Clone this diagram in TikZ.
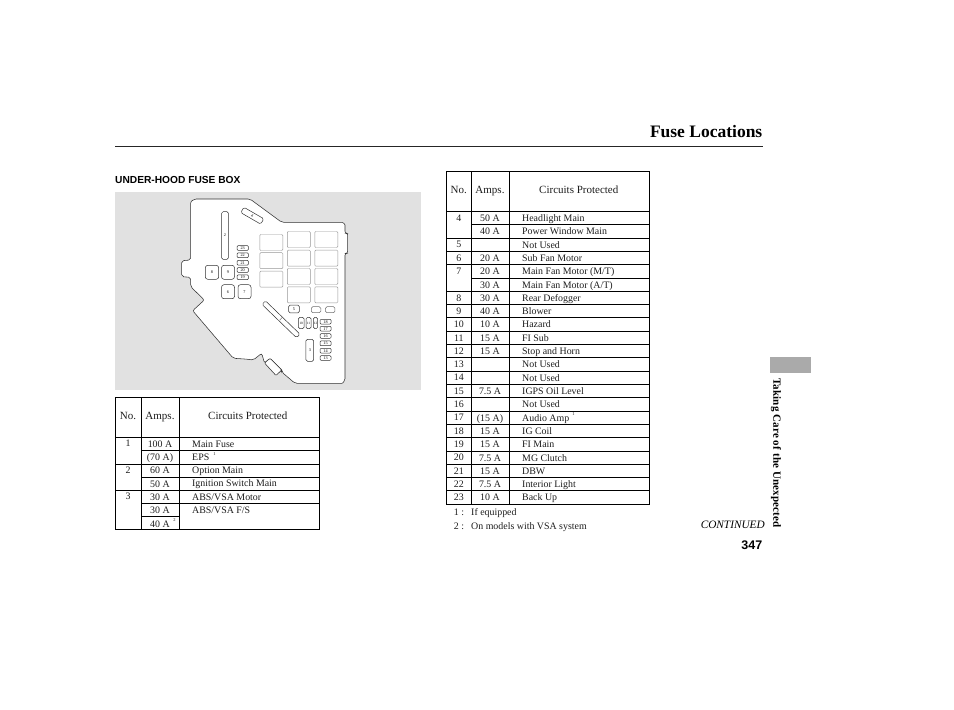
\documentclass[tikz,border=0pt]{standalone}
\usepackage{fontspec}
\setmainfont{Liberation Serif}
\newfontfamily\labelsans{Liberation Sans}
\usetikzlibrary{positioning}
\definecolor{boxgray}{RGB}{225, 225, 225}
\definecolor{tabgray}{RGB}{170, 170, 170}
\definecolor{fuseline}{RGB}{50, 50, 50}
\definecolor{inkdark}{RGB}{30, 30, 30}
\tikzset{
  tabletext/.style={inner sep=0pt, text=inkdark, font=\fontsize{9.9}{11}\selectfont, text height=6.5pt, text depth=2pt},
  headtext/.style={inner sep=0pt, text=inkdark, font=\fontsize{11}{13}\selectfont, text height=7.5pt, text depth=2.5pt},
  notemark/.style={inner sep=0pt, text=inkdark, font=\fontsize{4.5}{5}\selectfont},
  ruleline/.style={line width=0.7pt, black},
  fuse/.style={draw=fuseline, fill=white, rounded corners=1.5pt, line width=0.5pt, inner sep=0pt, text=black,
    font=\fontsize{4.2}{5}\selectfont},
  bigfuse/.style={draw=fuseline!50, fill=white, rounded corners=1pt, line width=0.45pt, inner sep=0pt,
    minimum width=23pt, minimum height=16pt},
}
\begin{document}
\begin{tikzpicture}[x=1pt, y=-1pt]
  \useasboundingbox (0,0) rectangle (954,710);
  \fill[white] (0,0) rectangle (954,710);

  % page head
  \node[anchor=base east, inner sep=0pt, font=\bfseries\fontsize{17.5}{20}\selectfont] (title) at (762.5,137) {Fuse Locations};
  \draw[line width=0.8pt, black!85] (115,146.7) -- (763,146.7);
  \node[anchor=base west, inner sep=0pt, font=\labelsans\bfseries\fontsize{10.2}{12}\selectfont] (boxtitle) at (115,183) {UNDER-HOOD FUSE BOX};

  % fuse box
  \fill[boxgray] (115,192) rectangle (421,390);
  \draw[fuseline, fill=white, line width=0.55pt, rounded corners=2pt]
    (190.7,205) .. controls (190.7,201) and (194,199) .. (198.3,199) -- (250,199) -- (281.7,222.3)
    -- (340,222.3) .. controls (343,222.3) and (345,224) .. (345,227) -- (345,233.3) -- (347.7,233.3)
    -- (347.7,253.3) -- (345,253.3) -- (345,376.7) .. controls (345,380) and (343,383.3) .. (340,383.3)
    -- (295,383.3) -- (281.7,372) -- (281.7,370) -- (270,358.3) -- (264.5,363) -- (261.7,353.3)
    -- (253.3,360) -- (245,359) -- (233.3,358.3) -- (192.7,310.7) -- (204.3,300) -- (190.7,286.7)
    -- (190.7,277.3) -- (181.7,276.7) -- (181.7,260.7) -- (190.7,260) -- cycle;
  \draw[fuseline, fill=white, line width=0.55pt, rounded corners=1pt]
    (264.5,363) -- (270,358.3) -- (281.7,370) -- (276,375.5) -- cycle;

  \node[fuse, minimum width=6.7pt, minimum height=47.6pt] (fuse2) at (225,235.5) {2};
  \node[fuse, minimum width=23pt, minimum height=6.2pt, rotate=-30] (fuse4) at (252.3,215.7) {4};
  \node[fuse, minimum width=48pt, minimum height=5pt, rotate=-44] (fuse1) at (281,319.3) {1};
  \node[fuse, rounded corners=2.5pt, minimum width=13.4pt, minimum height=14pt] (fuse8) at (212,272.3) {8};
  \node[fuse, rounded corners=2.5pt, minimum width=13pt, minimum height=14pt] (fuse9) at (228,272.3) {9};
  \node[fuse, rounded corners=2.5pt, minimum width=13pt, minimum height=14pt] (fuse6) at (228,291.7) {6};
  \node[fuse, rounded corners=2.5pt, minimum width=13pt, minimum height=14pt] (fuse7) at (244.5,291.7) {7};
  \node[fuse, minimum width=10.7pt, minimum height=7.7pt] (fuse5) at (294,309) {5};
  \node[fuse, draw=fuseline!70, minimum width=9.5pt, minimum height=6pt] (spareA) at (316,309.7) {};
  \node[fuse, draw=fuseline!70, minimum width=9.5pt, minimum height=6pt] (spareB) at (330.2,309.7) {};
  \node[fuse, font=\fontsize{3.4}{4}\selectfont, minimum width=5.7pt, minimum height=11.3pt] (fuse10) at (301.2,323) {10};
  \node[fuse, font=\fontsize{3.4}{4}\selectfont, minimum width=5pt, minimum height=11.3pt] (fuse11) at (308.5,323) {11};
  \node[fuse, font=\fontsize{3.4}{4}\selectfont, minimum width=4.4pt, minimum height=11.3pt] (fuse12) at (315.5,323) {12};
  \node[fuse, minimum width=7.7pt, minimum height=22pt] (fuse3) at (309.8,350.3) {3};

  \foreach \fno/\fy in {23/248, 22/255.3, 21/262.7, 20/270, 19/277.3}
    \node[fuse, rounded corners=1pt, minimum width=11.3pt, minimum height=4.7pt] (fuse\fno) at (242.7,\fy) {\fno};
  \foreach \fno/\fy in {18/321.7, 17/328.7, 16/336, 15/343.3, 14/350.7, 13/358}
    \node[fuse, rounded corners=1pt, minimum width=11pt, minimum height=4.7pt] (fuse\fno) at (325.5,\fy) {\fno};

  \foreach \fy [count=\k] in {242.5, 260.7, 279.2}
    \node[bigfuse] (bigA\k) at (271.3,\fy) {};
  \foreach \fy [count=\k] in {239.5, 258.2, 276.5, 294.8} {
    \node[bigfuse] (bigB\k) at (298.8,\fy) {};
    \node[bigfuse] (bigC\k) at (326.3,\fy) {};
  }

  % lower table
  \draw[ruleline] (115.5,397.7) rectangle (319.5,529.5);
  \draw[ruleline] (141.3,397.7) -- (141.3,529.5);
  \draw[ruleline] (179.7,397.7) -- (179.7,529.5);
  \draw[ruleline] (115.5,437.7) -- (319.5,437.7);
  \foreach \ly in {450.8, 464, 477.1, 490.2, 503.3}
    \draw[ruleline] (141.3,\ly) -- (319.5,\ly);
  \foreach \ly in {464, 490.2}
    \draw[ruleline] (115.5,\ly) -- (141.3,\ly);
  \draw[ruleline] (141.3,516.4) -- (179.7,516.4);

  \node[headtext] (lno) at (128,417.3) {No.};
  \node[headtext] (lamps) at (160,417.3) {Amps.};
  \node[headtext, anchor=west] (lcirc) at (208,417.3) {Circuits Protected};
  \foreach \no/\amp/\circ [count=\r from 0] in {1/100 A/Main Fuse, /(70 A)/EPS, 2/60 A/Option Main,
      /50 A/Ignition Switch Main, 3/30 A/{ABS/VSA Motor}, /30 A/{ABS/VSA F/S}, /40 A/} {
    \node[tabletext] (lno\r) at (128,444.4+13.2*\r) {\no};
    \node[tabletext] (lamp\r) at (160,445+13.3*\r) {\amp};
    \node[tabletext, anchor=west] (lcirc\r) at (192,445+13.2*\r) {\circ};
  }
  \node[notemark] (lmark1) at (214.5,454) {1};
  \node[notemark] (lmark2) at (174.5,520.5) {2};

  % right table
  \draw[ruleline] (446.8,171.7) rectangle (649.5,504.6);
  \draw[ruleline] (471,171.7) -- (471,504.6);
  \draw[ruleline] (509.7,171.7) -- (509.7,504.6);
  \draw[ruleline] (446.8,211.3) -- (649.5,211.3);

  \node[headtext] (rno) at (458.8,191.3) {No.};
  \node[headtext] (ramps) at (490,191.3) {Amps.};
  \node[headtext, anchor=west] (rcirc) at (539,191.3) {Circuits Protected};
  \foreach \no/\amp/\circ [count=\r from 0] in {4/50 A/Headlight Main, /40 A/Power Window Main, 5//Not Used,
      6/20 A/Sub Fan Motor, 7/20 A/{Main Fan Motor (M/T)}, /30 A/{Main Fan Motor (A/T)}, 8/30 A/Rear Defogger,
      9/40 A/Blower, 10/10 A/Hazard, 11/15 A/FI Sub, 12/15 A/Stop and Horn, 13//Not Used, 14//Not Used,
      15/7.5 A/IGPS Oil Level, 16//Not Used, 17/(15 A)/Audio Amp, 18/15 A/IG Coil, 19/15 A/FI Main,
      20/7.5 A/MG Clutch, 21/15 A/DBW, 22/7.5 A/Interior Light, 23/10 A/Back Up} {
    \node[tabletext] (rno\r) at (458.8,219+13.31*\r) {\no};
    \node[tabletext] (ramp\r) at (490,219.2+13.31*\r) {\amp};
    \node[tabletext, anchor=west] (rcirc\r) at (522,219.2+13.31*\r) {\circ};
  }
  \foreach \r in {1,...,21} {
    \draw[ruleline] (471,211.3+13.31*\r) -- (649.5,211.3+13.31*\r);
    \ifnum\r=1\relax\else\ifnum\r=5\relax\else
      \draw[ruleline] (446.8,211.3+13.31*\r) -- (471,211.3+13.31*\r);
    \fi\fi
  }
  \node[notemark] (rmark1) at (573.5,414.5) {1};

  % notes under the table
  \node[tabletext] (note1) at (459,513) {1 :};
  \node[tabletext, anchor=west] (note1t) at (471,513) {If equipped};
  \node[tabletext] (note2) at (459,527) {2 :};
  \node[tabletext, anchor=west] (note2t) at (471,527) {On models with VSA system};

  % page foot and side tab
  \fill[tabgray] (770,357) rectangle (811,373);
  \node[inner sep=0pt, rotate=-90, anchor=west, font=\bfseries\fontsize{11}{13}\selectfont] (sidetext) at (776,378) {\addfontfeature{LetterSpace=1.5}Taking Care of the Unexpected};
  \node[anchor=base east, inner sep=0pt, font=\itshape\fontsize{11.3}{13}\selectfont] (cont) at (765,528.5) {CONTINUED};
  \node[anchor=base east, inner sep=0pt, font=\labelsans\bfseries\fontsize{12.5}{14}\selectfont] (pageno) at (762.5,549.5) {347};
\end{tikzpicture}
\end{document}
